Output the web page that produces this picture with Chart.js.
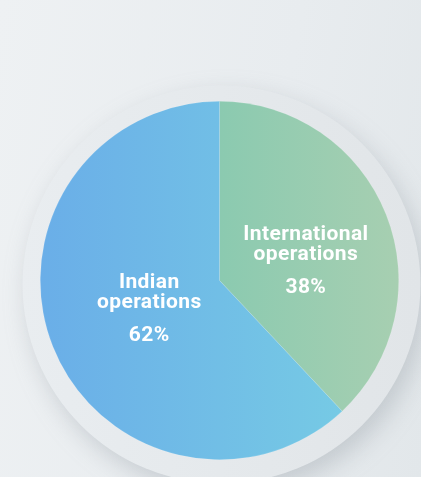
<!DOCTYPE html>
<html>
<head>
<meta charset="utf-8">
<script src="https://cdn.jsdelivr.net/npm/chart.js@4/dist/chart.umd.min.js"></script>
<style>
  html, body { margin: 0; padding: 0; }
  body {
    width: 421px; height: 477px; overflow: hidden;
    background: linear-gradient(100deg, #eef1f3 0%, #e8ecef 60%, #e2e7ea 100%);
  }
  #wrap { position: relative; width: 421px; height: 477px; }
</style>
</head>
<body>
<div id="wrap"><canvas id="chartOps"></canvas></div>
<script>
// data
var segLabels = [['International', 'operations'], ['Indian', 'operations']];
var segValues = [38, 62];

// gradient stops per slice (left colour, right colour)
var segColors = [
    ['#8bcab0', '#a7cfb1'],
    ['#6aaee8', '#78cfe4']
];
// label anchor as fraction of radius (dx, dy) from pie centre
var labelAnchors = [[0.482, -0.111], [-0.392, 0.157]];

function sliceGradient(context) {
    var chart = context.chart;
    var area = chart.chartArea;
    var i = context.dataIndex;
    if (!area || !isFinite(area.left) || !isFinite(area.right)) return segColors[i][0];
    var x0 = area.left, x1 = area.right;
    // the green slice starts at the centre line
    if (i === 0) x0 = (area.left + area.right) / 2;
    var g = chart.ctx.createLinearGradient(x0, 0, x1, 0);
    g.addColorStop(0, segColors[i][0]);
    g.addColorStop(1, segColors[i][1]);
    return g;
}

// soft disc behind the pie
var haloPlugin = {
    id: 'halo',
    beforeDatasetsDraw: function(chart) {
        var arc = chart.getDatasetMeta(0).data[0];
        if (!arc || !isFinite(arc.x)) return;
        var ctx = chart.ctx;
        ctx.save();
        ctx.beginPath();
        ctx.arc(arc.x + 2, arc.y + 4, arc.outerRadius * 1.11, 0, Math.PI * 2);
        ctx.shadowColor = 'rgba(120,130,140,0.3)';
        ctx.shadowBlur = 24;
        ctx.shadowOffsetX = 6;
        ctx.shadowOffsetY = 10;
        var g = ctx.createLinearGradient(arc.x - 200, 0, arc.x + 200, 0);
        g.addColorStop(0, '#e9edf0');
        g.addColorStop(1, '#e1e5e8');
        ctx.fillStyle = g;
        ctx.fill();
        ctx.restore();
    }
};

// labels drawn inside the slices
var sliceLabelPlugin = {
    id: 'sliceLabels',
    afterDatasetsDraw: function(chart) {
        var meta = chart.getDatasetMeta(0);
        var ctx = chart.ctx;
        var total = segValues.reduce(function(a, b) { return a + b; }, 0);
        ctx.save();
        ctx.fillStyle = '#ffffff';
        ctx.textAlign = 'center';
        ctx.textBaseline = 'middle';
        ctx.font = 'bold 21px Roboto';
        ctx.letterSpacing = '0.4px';
        meta.data.forEach(function(arc, i) {
            var cx = arc.x + labelAnchors[i][0] * arc.outerRadius;
            var cy = arc.y + labelAnchors[i][1] * arc.outerRadius;
            var top = cy - 26;
            ctx.fillText(segLabels[i][0], cx, top);
            ctx.fillText(segLabels[i][1], cx, top + 20);
            ctx.fillText(Math.round(segValues[i] / total * 100) + '%', cx, top + 53);
        });
        ctx.restore();
    }
};

var ctx = document.getElementById('chartOps');
var opsChart = new Chart(ctx, {
    type: 'pie',
    data: {
        labels: segLabels.map(function(l) { return l.join(' '); }),
        datasets: [{
            data: segValues,
            backgroundColor: sliceGradient,
            borderColor: 'rgba(255,255,255,0.2)',
            borderWidth: 0.6
        }]
    },
    options: {
        responsive: true,
        maintainAspectRatio: false,
        animation: false,
        layout: {
            padding: { left: 40, right: 22, top: 101, bottom: 17 }
        },
        plugins: {
            legend: { display: false },
            tooltip: { enabled: false }
        }
    },
    plugins: [haloPlugin, sliceLabelPlugin]
});
</script>
</body>
</html>
